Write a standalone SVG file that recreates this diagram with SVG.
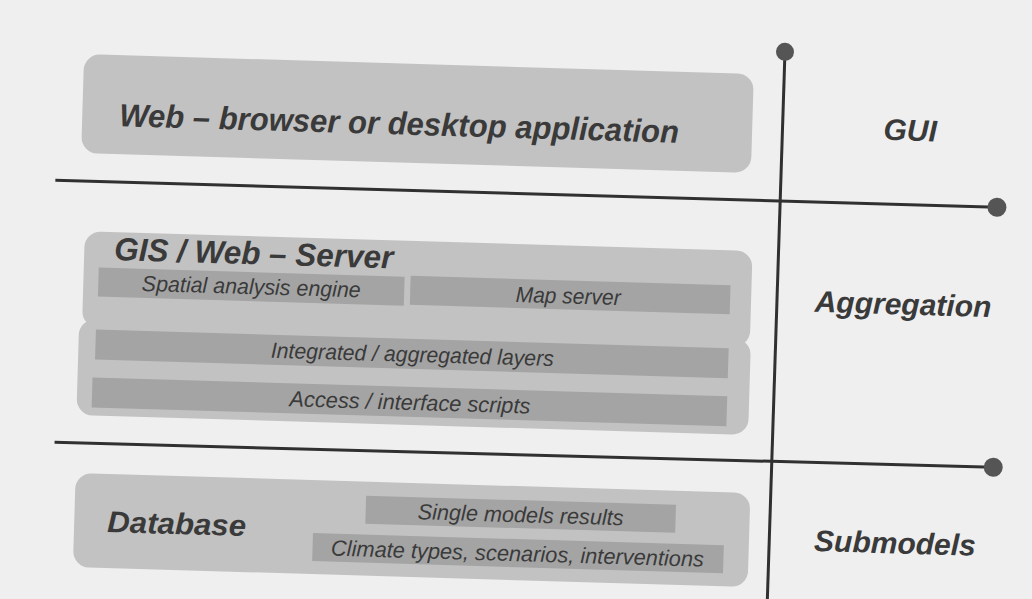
<svg xmlns="http://www.w3.org/2000/svg" width="1032" height="599" viewBox="0 0 1032 599">
  <style>
    .box { fill: #c2c2c2; }
    .bar { fill: #a4a4a4; }
    .t { font-family: "Liberation Sans Narrow", "Liberation Sans", Arial, sans-serif; font-style: italic; fill: #3a3a3a; }
    .h { font-size: 32px; font-weight: bold; }
    .s { font-size: 22px; text-anchor: middle; }
    .lab { font-family: "Liberation Sans", Arial, sans-serif; font-style: italic; font-weight: bold; font-size: 30px; fill: #3a3a3a; text-anchor: middle; }
    .ln { stroke: #303030; stroke-width: 3; fill: none; }
    .dot { fill: #555555; }
  </style>
  <rect x="0" y="0" width="1032" height="599" fill="#efefef"/>
  <g transform="rotate(1.7 516 300)">
    <g id="connectors">
      <line class="ln" x1="52" y1="194" x2="994" y2="193"/>
      <line class="ln" x1="59" y1="456" x2="998" y2="453"/>
      <line class="ln" x1="777.5" y1="44" x2="776" y2="640"/>
      <circle class="dot" cx="777.5" cy="44" r="9"/>
      <circle class="dot" cx="994" cy="193" r="9.5"/>
      <circle class="dot" cx="998" cy="453" r="9.5"/>
    </g>
    <g id="gui-app">
      <rect class="box" x="77" y="67" width="670" height="99" rx="16"/>
      <text class="t h" x="114" y="138" textLength="560" lengthAdjust="spacingAndGlyphs">Web – browser or desktop application</text>
    </g>
    <g id="gis-server">
      <rect class="box" x="83" y="244" width="668" height="96" rx="16"/>
      <rect class="box" x="80" y="332" width="672" height="96" rx="16"/>
      <text class="t h" x="113" y="272" textLength="279" lengthAdjust="spacingAndGlyphs">GIS / Web – Server</text>
    </g>
    <g id="spatial">
      <rect class="bar" x="98" y="280" width="306" height="29"/>
      <text class="t s" x="251" y="302" textLength="219" lengthAdjust="spacingAndGlyphs">Spatial analysis engine</text>
    </g>
    <g id="map-server">
      <rect class="bar" x="410" y="279" width="320" height="29"/>
      <text class="t s" x="568" y="302" textLength="105" lengthAdjust="spacingAndGlyphs">Map server</text>
    </g>
    <g id="integrated">
      <rect class="bar" x="97" y="342" width="633" height="30"/>
      <text class="t s" x="414" y="365" textLength="283" lengthAdjust="spacingAndGlyphs">Integrated / aggregated layers</text>
    </g>
    <g id="access">
      <rect class="bar" x="95" y="390" width="635" height="30"/>
      <text class="t s" x="413" y="413" textLength="241" lengthAdjust="spacingAndGlyphs">Access / interface scripts</text>
    </g>
    <g id="database">
      <rect class="box" x="81" y="486" width="675" height="94" rx="16"/>
      <text class="t" x="114" y="544" font-size="30" font-weight="bold" textLength="139" lengthAdjust="spacingAndGlyphs">Database</text>
    </g>
    <g id="single-models">
      <rect class="bar" x="372" y="500" width="310" height="28"/>
      <text class="t s" x="527" y="522" textLength="206" lengthAdjust="spacingAndGlyphs">Single models results</text>
    </g>
    <g id="climate">
      <rect class="bar" x="320" y="539" width="411" height="28"/>
      <text class="t s" x="525" y="561" textLength="373" lengthAdjust="spacingAndGlyphs">Climate types, scenarios, interventions</text>
    </g>
    <g id="label-gui">
      <text class="lab" x="905" y="129">GUI</text>
    </g>
    <g id="label-aggregation">
      <text class="lab" x="903" y="303">Aggregation</text>
    </g>
    <g id="label-submodels">
      <text class="lab" x="902" y="542">Submodels</text>
    </g>
  </g>
</svg>
